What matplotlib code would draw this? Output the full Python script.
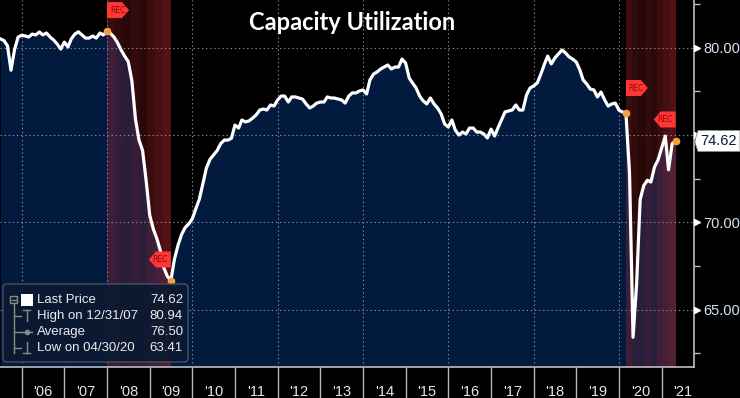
"""
Capacity utilization, monthly, with recession shading (Bloomberg style screen)
"""
import numpy as np
import pandas as pd
import matplotlib
matplotlib.use("Agg")
import matplotlib.pyplot as plt
import matplotlib.dates as mdates
from matplotlib.patches import Polygon, Rectangle, FancyBboxPatch
from matplotlib.lines import Line2D
from matplotlib.transforms import IdentityTransform, blended_transform_factory, offset_copy

# monthly readings, first value is June 2005
FIRST_MONTH = "2005-06-01"
cap_util = [
    80.5, 80.4, 80.1, 78.7, 79.9, 80.6, 80.7,
    80.66, 80.6, 80.77, 80.72, 80.89, 80.72, 80.83, 80.6, 80.43, 80.2, 79.91, 80.31,
    80.03, 80.49, 80.77, 80.9, 80.72, 80.54, 80.54, 80.66, 80.54, 80.83, 80.72, 80.94,
    80.8, 80.6, 80.26, 79.86, 79.5, 79.2, 78.1, 75.9, 74.7, 74.1, 72.4, 70.4,
    69.6, 69.1, 68.4, 67.4, 66.9, 66.66, 67.9, 68.7, 69.3, 69.7, 69.9, 70.2,
    70.8, 71.3, 72.2, 73.1, 73.6, 73.85, 74.1, 74.5, 74.7, 74.7, 74.8, 75.56,
    75.39, 75.85, 75.74, 75.8, 75.96, 76.14, 76.42, 76.48, 76.42, 76.71, 76.65, 77.0,
    77.22, 77.22, 76.88, 77.17, 77.17, 77.11, 77.05, 76.77, 76.54, 76.65, 76.82, 76.88,
    76.88, 77.17, 77.11, 77.11, 77.05, 77.0, 76.82, 77.22, 77.4, 77.4, 77.51, 77.57,
    77.34, 78.14, 78.48, 78.6, 78.77, 78.88, 79.0, 78.77, 78.88, 78.88, 79.34, 79.11,
    78.25, 77.97, 77.68, 77.22, 76.94, 76.77, 77.11, 76.77, 76.54, 76.2, 75.62, 75.45,
    75.85, 75.28, 74.99, 75.16, 75.05, 75.39, 75.39, 75.16, 75.16, 75.05, 74.82, 75.33,
    74.93, 75.39, 75.85, 76.31, 76.37, 76.42, 76.71, 76.42, 76.42, 77.28, 77.68, 77.8,
    77.97, 78.43, 79.0, 79.51, 79.06, 79.4, 79.63, 79.86, 79.69, 79.46, 79.34, 79.17,
    78.71, 78.14, 77.91, 77.62, 77.57, 77.17, 77.45, 77.0, 76.65, 76.77, 76.82, 76.42,
    76.31, 76.25, 72.8, 63.41, 66.5, 71.3, 72.1, 72.4, 72.3, 73.16, 73.56, 74.25,
    74.93, 73.0, 74.5, 74.62,
]

rec_start = ["2007-12-31", "2020-02-29"]
rec_end = ["2009-06-30", "2021-04-30"]

legend_labels = ["Last Price", "High on 12/31/07", "Average", "Low on 04/30/20"]
legend_values = [74.62, 80.94, 76.50, 63.41]

years = list(range(2006, 2022))
y_major = [65, 70, 75, 80]
y_minor = [62.5, 67.5, 72.5, 77.5, 82.5]

W, H = 740, 398
NAVY = "#021a3e"
REC_RED = "#c42a30"
FLAG_RED = "#ff3636"
ORANGE = "#f5a040"

plt.rcParams["font.family"] = ["Liberation Sans", "DejaVu Sans"]


def img(x, y):
    # picture pixel (from top-left) -> display pixel
    return x, H - y


def main():
    dates = pd.date_range(FIRST_MONTH, periods=len(cap_util), freq="MS") + pd.offsets.MonthEnd(0)
    vals = np.array(cap_util)
    s = pd.Series(vals, index=dates)

    fig = plt.figure(figsize=(W / 100, H / 100), dpi=100, facecolor="black")
    ax = fig.add_axes([0, 31 / H, 694 / W, 367 / H])
    ax.set_facecolor("black")
    ax.set_xlim(pd.Timestamp("2005-06-28"), pd.Timestamp("2021-10-04"))
    ax.set_ylim(61.71, 82.72)
    ybot = ax.get_ylim()[0]

    ax.fill_between(dates, vals, ybot, color=NAVY, lw=0, zorder=1)

    # recession shading, drawn as uneven stripes
    alphas = [0.30, 0.24, 0.20, 0.27, 0.22, 0.30, 0.36, 0.42]
    for a, b in zip(rec_start, rec_end):
        edges = np.linspace(mdates.date2num(pd.Timestamp(a)), mdates.date2num(pd.Timestamp(b)), len(alphas) + 1)
        for i, al in enumerate(alphas):
            ax.axvspan(edges[i], edges[i + 1], color=REC_RED, alpha=al, lw=0, zorder=1.5)

    grid_kw = dict(color="#8c8c8c", lw=0.8, ls=(0, (1.2, 2.5)), zorder=2)
    for v in y_major:
        ax.axhline(v, **grid_kw)
    for yr in years[::2]:
        ax.axvline(pd.Timestamp(f"{yr}-01-01"), **grid_kw)

    ax.plot(dates, vals, color="white", lw=2.3, zorder=4, solid_joinstyle="round")

    # dots at recession start / end
    pts = [pd.Timestamp(d) for d in rec_start + rec_end]
    ax.plot(pts, [s[p] for p in pts], ls="none", marker="o", ms=4.5, color=ORANGE, zorder=5)

    # x axis
    ax.xaxis.set_major_locator(mdates.YearLocator())
    ax.xaxis.set_major_formatter(plt.NullFormatter())
    ax.set_xticks([pd.Timestamp(f"{yr}-07-01") for yr in years], minor=True)
    ax.set_xticklabels([f"'{yr % 100:02d}" for yr in years], minor=True)
    ax.tick_params(axis="x", which="major", length=24, width=1, color="#b5b5b5", direction="out")
    ax.tick_params(axis="x", which="minor", length=0, pad=13, labelsize=10.5, labelcolor="#e6e6e6")

    # y axis on the right
    ax.yaxis.tick_right()
    ax.set_yticks(y_major)
    ax.set_yticklabels([f"{v:.2f}" for v in y_major])
    ax.set_yticks(y_minor, minor=True)
    ax.tick_params(axis="y", which="major", length=0, pad=7, labelsize=10.5, labelcolor="#d4e4f4")
    ax.tick_params(axis="y", which="minor", length=4, width=1, color="#bbbbbb", direction="out")
    tri = offset_copy(blended_transform_factory(ax.transAxes, ax.transData), fig=fig, x=3, y=0, units="dots")
    ax.plot([1] * len(y_major), y_major, ls="none", marker=">", ms=5, color="white",
            transform=tri, clip_on=False, zorder=6)

    for side in ["left", "top"]:
        ax.spines[side].set_visible(False)
    for side in ["right", "bottom"]:
        ax.spines[side].set_color("#bdbdbd")
        ax.spines[side].set_linewidth(1.2)

    ident = IdentityTransform()

    # REC flags
    def rec_flag(date, direction, gap):
        px, py = ax.transData.transform((mdates.date2num(date), s[date]))
        w, h, tip = 22, 16, 7
        y0 = py + gap
        xs = np.array([0, w - tip, w, w - tip, 0]) * direction + px
        ys = [y0, y0, y0 + h / 2, y0 + h, y0 + h]
        fig.add_artist(Polygon(np.column_stack([xs, ys]), closed=True, transform=ident,
                               facecolor=FLAG_RED, edgecolor="none", zorder=6))
        fig.text(px + direction * 10.5, y0 + h / 2, "REC", transform=ident, fontsize=5.5,
                 family="DejaVu Sans", color="#8a0808", ha="center", va="center", zorder=7)

    rec_flag(pd.Timestamp(rec_start[0]), 1, 13)
    rec_flag(pd.Timestamp(rec_end[0]), -1, 13)
    rec_flag(pd.Timestamp(rec_start[1]), 1, 17)
    rec_flag(pd.Timestamp(rec_end[1]), -1, 14)

    # last price tag on the axis
    last = legend_values[0]
    lx, ly = ax.transData.transform((ax.get_xlim()[1], last))
    tag = np.array([[lx + 1, ly + 1], [lx + 4, ly + 11], [lx + 46, ly + 11],
                    [lx + 46, ly - 10], [lx + 4, ly - 10], [lx + 1, ly - 1]])
    fig.add_artist(Polygon(tag, closed=True, transform=ident, facecolor="white",
                           edgecolor="#888888", lw=0.6, zorder=8))
    fig.text(lx + 24, ly, f"{last:.2f}", transform=ident, fontsize=10.5, color="#0b1a30",
             ha="center", va="center", zorder=9)

    # title
    fig.text(352 / W, 1 - 23 / H, "Capacity Utilization", color="white", fontsize=17,
             fontweight="bold", family=["Lato", "DejaVu Sans"], ha="center", va="center")

    # legend panel
    x0, y0 = img(3, 362)
    fig.add_artist(FancyBboxPatch((x0, y0), 185, 78, boxstyle="round,pad=0,rounding_size=4",
                                  transform=ident, facecolor="#0b1930", alpha=0.92,
                                  edgecolor="#4b5566", lw=1, zorder=10))
    rows = [300, 316, 332, 348]
    for r, lab, v in zip(rows, legend_labels, legend_values):
        fig.text(*img(37, r), lab, transform=ident, fontsize=9.5, color="#ececec",
                 ha="left", va="center", zorder=11)
        fig.text(*img(183, r), f"{v:.2f}", transform=ident, fontsize=9.5, color="#ececec",
                 ha="right", va="center", zorder=11)

    gray = "#8a8a8a"

    def seg(xa, ya, xb, yb, lw=1):
        (p, q), (r, t) = img(xa, ya), img(xb, yb)
        fig.add_artist(Line2D([p, r], [q, t], transform=ident, color=gray, lw=lw, zorder=11))

    fig.add_artist(Rectangle(img(10, 303), 7, 7, transform=ident, facecolor="none",
                             edgecolor=gray, lw=1, zorder=11))
    seg(11.5, 299.5, 15.5, 299.5)
    seg(13.5, 303, 13.5, 353)
    for r in rows[1:]:
        seg(13.5, r, 21, r)
    fig.add_artist(Rectangle(img(21, 306), 12, 12, transform=ident, facecolor="white",
                             edgecolor="none", zorder=11))
    # high icon
    seg(23, 310, 30, 310)
    seg(26.5, 310, 26.5, 321)
    # average icon
    seg(21, 332, 32, 332)
    fig.add_artist(Line2D([img(26.5, 332)[0]], [img(26.5, 332)[1]], transform=ident, marker="o",
                          ms=3, color=gray, zorder=11))
    # low icon
    seg(26.5, 342, 26.5, 353)
    seg(23, 353, 30, 353)

    fig.savefig("out.png", dpi=100, facecolor="black")


if __name__ == "__main__":
    main()
